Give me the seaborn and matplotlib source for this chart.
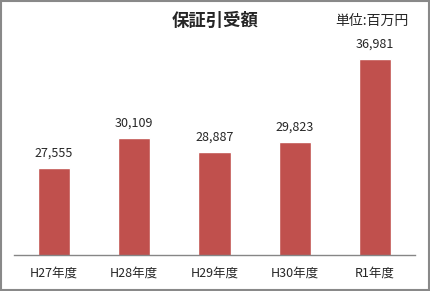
import matplotlib
matplotlib.use("Agg")
import matplotlib.pyplot as plt
import seaborn as sns
import pandas as pd
from matplotlib.patches import Rectangle

categories = ["H27年度", "H28年度", "H29年度", "H30年度", "R1年度"]
values = [27555, 30109, 28887, 29823, 36981]
title = "保証引受額"
unit_label = "単位:百万円"

sns.set_theme(style="white")
plt.rcParams['font.family'] = ['Noto Sans CJK JP', 'DejaVu Sans']

df = pd.DataFrame({"cat": categories, "val": values})

fig = plt.figure(figsize=(4.30, 2.91), dpi=100)
ax = fig.add_axes([14/430, 36/291, 401/430, 231/291])
sns.barplot(data=df, x="cat", y="val", color="#C0504D", saturation=1, width=0.4, ax=ax)
ax.set_ylim(20000, 40000)
ax.set_xlim(-0.5, 4.5)
ax.set_xlabel("")
ax.set_ylabel("")
ax.set_yticks([])
for s in ["left", "right", "top"]:
    ax.spines[s].set_visible(False)
ax.spines["bottom"].set_color("#868686")
ax.spines["bottom"].set_linewidth(1)
ax.tick_params(axis="x", length=0, labelsize=9, pad=8)
for i, v in enumerate(values):
    ax.annotate(f"{v:,}", (i, v), xytext=(0, 6), textcoords="offset points",
                ha="center", va="bottom", fontsize=9)

fig.text(215/430, 1 - 21/291, title, ha="center", va="center", fontsize=12.5, fontweight="bold")
fig.text(408/430, 1 - 21/291, unit_label, ha="right", va="center", fontsize=10)
fig.patches.append(Rectangle((0.002, 0.003), 0.995, 0.994, transform=fig.transFigure,
                             fill=False, edgecolor="#898989", linewidth=1.5))
fig.savefig("out.png", dpi=100)
